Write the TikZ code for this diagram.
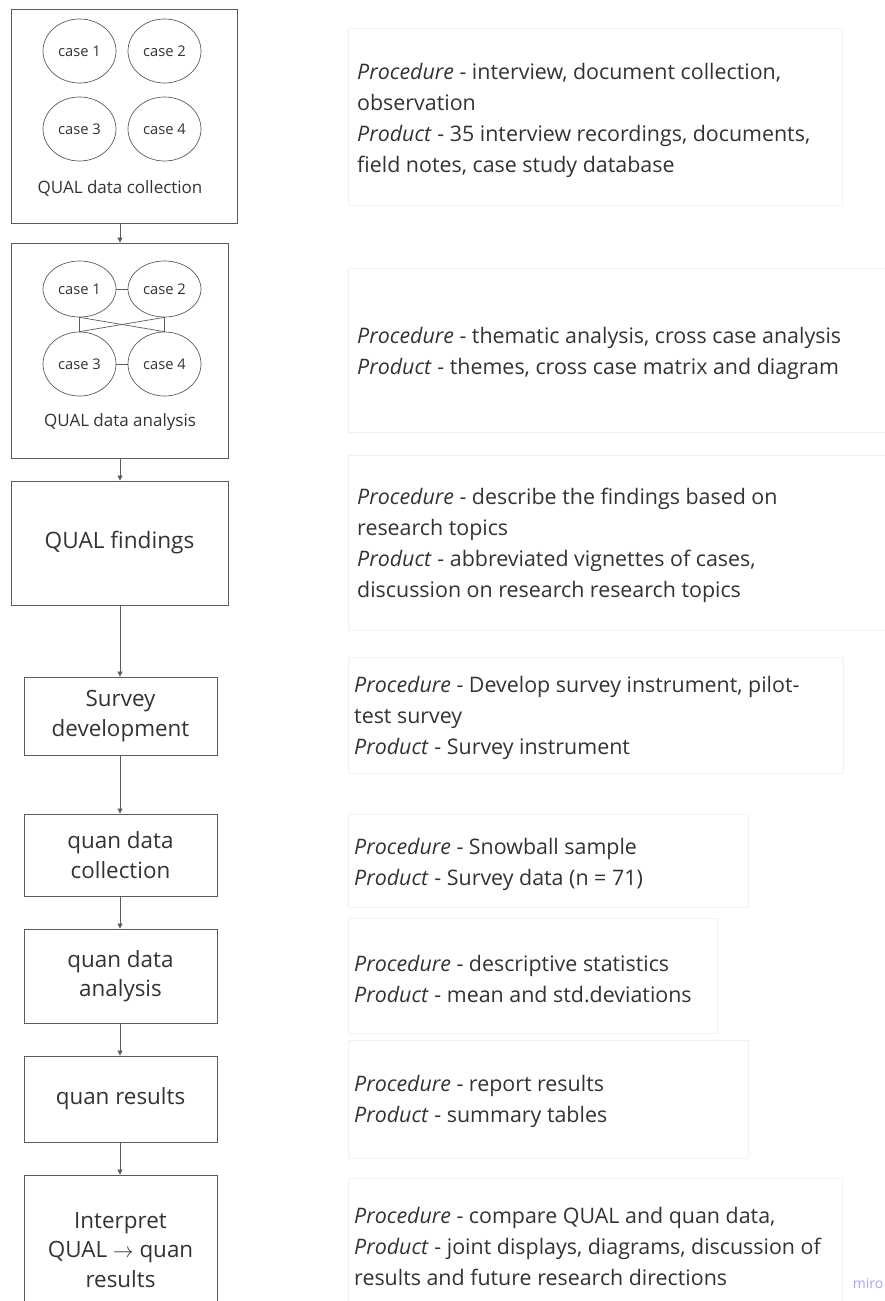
\documentclass[tikz,border=0pt]{standalone}
\usepackage{fontspec}
\setmainfont{Open Sans}
\usetikzlibrary{arrows.meta,shapes.geometric}
\definecolor{edge}{HTML}{5C5C5C}
\definecolor{ink}{HTML}{333333}
\definecolor{panelline}{HTML}{F2F2F2}
\definecolor{miro}{HTML}{ABA3F0}

\begin{document}
\begin{tikzpicture}[x=1pt,y=-1pt,
  stage/.style={draw=edge, line width=0.9pt, rectangle, inner sep=0pt, text=ink, align=center},
  case/.style={draw=edge, line width=0.7pt, ellipse, inner sep=0pt, minimum width=73pt, text=ink, font=\fontsize{14.7}{16}\selectfont},
  caption/.style={text=ink, inner sep=0pt, font=\fontsize{17}{19}\selectfont},
  panel/.style={draw=panelline, line width=0.7pt, rectangle, inner sep=0pt},
  note/.style={anchor=west, align=left, inner sep=0pt, text=ink, font=\fontsize{21.4}{31}\selectfont},
  flow/.style={draw=edge, line width=0.8pt, -{Triangle[length=5pt,width=5pt]}},
  link/.style={draw=edge, line width=0.7pt}]

\useasboundingbox (0,0) rectangle (885,1301);
\fill[white] (0,0) rectangle (885,1301);
\clip (0,0) rectangle (885,1301);

% ---- left column: process stages ----
\node[stage, minimum width=226pt, minimum height=214pt] (b1) at (124,116) {};
\node[case, minimum height=64pt] (c11) at (79.5,51) {case 1};
\node[case, minimum height=64pt] (c12) at (164.5,51) {case 2};
\node[case, minimum height=64pt] (c13) at (79.5,129) {case 3};
\node[case, minimum height=64pt] (c14) at (164.5,129) {case 4};
\node[caption] (l1) at (120,188) {QUAL data collection};

\node[stage, minimum width=217pt, minimum height=215pt] (b2) at (119.5,350.5) {};
\node[case, minimum height=56pt] (c21) at (79.5,289) {case 1};
\node[case, minimum height=56pt] (c22) at (164.5,289) {case 2};
\node[case, minimum height=64pt] (c23) at (79.5,364) {case 3};
\node[case, minimum height=64pt] (c24) at (164.5,364) {case 4};
\node[caption] (l2) at (120,422) {QUAL data analysis};

% cross-case links
\draw[link] (c21.east) -- (c22.west);
\draw[link] (c23.east) -- (c24.west);
\draw[link] (c21.south) -- (c23.north);
\draw[link] (c22.south) -- (c24.north);
\draw[link] (c21.south) -- (c24.north);
\draw[link] (c22.south) -- (c23.north);

\node[stage, minimum width=217pt, minimum height=124pt, font=\fontsize{22.6}{26}\selectfont] (b3) at (119.5,543) {QUAL findings};

\begin{scope}[every node/.append style={font=\fontsize{22.4}{29.5}\selectfont}]
\node[stage, minimum width=193pt, minimum height=78pt] (b4) at (120.5,716) {Survey\\development};
\node[stage, minimum width=193pt, minimum height=82pt] (b5) at (120.5,855) {quan data\\collection};
\node[stage, minimum width=193pt, minimum height=94pt] (b6) at (120.5,976) {quan data\\analysis};
\node[stage, minimum width=193pt, minimum height=86pt] (b7) at (120.5,1099) {quan results};
\node[stage, minimum width=193pt, minimum height=150pt] (b8) at (120.5,1250) {Interpret\\QUAL $\rightarrow$ quan\\results};
\end{scope}

\coordinate (ax) at (120,0);
\draw[flow] (b1.south -| ax) -- (b2.north -| ax);
\draw[flow] (b2.south -| ax) -- (b3.north -| ax);
\draw[flow] (b3.south -| ax) -- (b4.north -| ax);
\draw[flow] (b4.south -| ax) -- (b5.north -| ax);
\draw[flow] (b5.south -| ax) -- (b6.north -| ax);
\draw[flow] (b6.south -| ax) -- (b7.north -| ax);
\draw[flow] (b7.south -| ax) -- (b8.north -| ax);

% ---- right column: procedures and products ----
\node[panel, minimum width=494pt, minimum height=177pt] (p1) at (595,116.5) {};
\node[note] (t1) at (357,120.5) {\textit{Procedure} - interview, document collection,\\observation\\\textit{Product} - 35 interview recordings, documents,\\field notes, case study database};

\node[panel, minimum width=542pt, minimum height=164pt] (p2) at (619,350) {};
\node[note] (t2) at (357,353.5) {\textit{Procedure} - thematic analysis, cross case analysis\\\textit{Product} - themes, cross case matrix and diagram};

\node[panel, minimum width=542pt, minimum height=175pt] (p3) at (619,542.5) {};
\node[note] (t3) at (357,545.5) {\textit{Procedure} - describe the findings based on\\research topics\\\textit{Product} - abbreviated vignettes of cases,\\discussion on research research topics};

\node[panel, minimum width=495pt, minimum height=116pt] (p4) at (595.5,715) {};
\node[note] (t4) at (354,718) {\textit{Procedure} - Develop survey instrument, pilot-\\test survey\\\textit{Product} - Survey instrument};

\node[panel, minimum width=400pt, minimum height=93pt] (p5) at (548,860.5) {};
\node[note] (t5) at (354,864.5) {\textit{Procedure} - Snowball sample\\\textit{Product} - Survey data (n = 71)};

\node[panel, minimum width=369pt, minimum height=115pt] (p6) at (532.5,975.5) {};
\node[note] (t6) at (354,979.5) {\textit{Procedure} - descriptive statistics\\\textit{Product} - mean and std.deviations};

\node[panel, minimum width=400pt, minimum height=118pt] (p7) at (548,1099) {};
\node[note] (t7) at (354,1101.5) {\textit{Procedure} - report results\\\textit{Product} - summary tables};

\node[panel, minimum width=494pt, minimum height=142pt] (p8) at (595,1249) {};
\node[note] (t8) at (354,1246) {\textit{Procedure} - compare QUAL and quan data,\\\textit{Product} - joint displays, diagrams, discussion of\\results and future research directions};

\node[text=miro, inner sep=0pt, font=\fontsize{14}{16}\selectfont] (wm) at (868,1283) {miro};
\end{tikzpicture}
\end{document}
